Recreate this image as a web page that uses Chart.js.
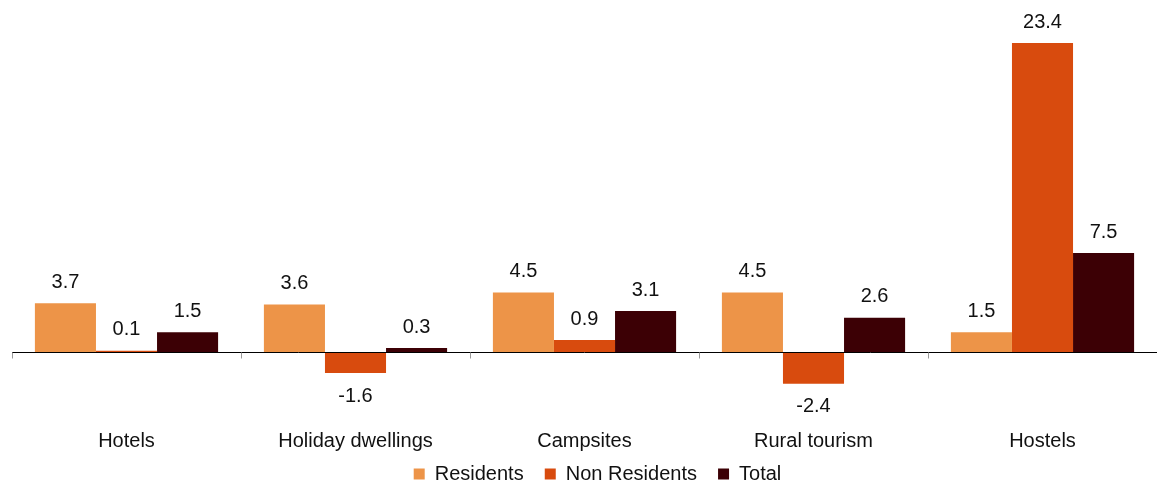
<!DOCTYPE html>
<html>
<head>
<meta charset="utf-8">
<script src="https://cdn.jsdelivr.net/npm/chart.js@4/dist/chart.umd.min.js"></script>
<style>
  html, body { margin: 0; padding: 0; background: #fff; }
  #wrap { width: 1157px; height: 484px; }
</style>
</head>
<body>
<div id="wrap"><canvas id="accChart"></canvas></div>
<script>
// Accommodation types
const categories = ['Hotels', 'Holiday dwellings', 'Campsites', 'Rural tourism', 'Hostels'];

// Year-on-year change (%)
const residents = [3.7, 3.6, 4.5, 4.5, 1.5];
const nonResidents = [0.1, -1.6, 0.9, -2.4, 23.4];
const total = [1.5, 0.3, 3.1, 2.6, 7.5];

const FONT = '"Liberation Sans", Arial, sans-serif';

// zero line + tick marks at category boundaries
const zeroAxis = {
    id: 'zeroAxis',
    afterDatasetsDraw(chart) {
        const { ctx, chartArea, scales } = chart;
        const y0 = Math.round(scales.y.getPixelForValue(0)) + 0.5;
        ctx.save();
        ctx.strokeStyle = '#000';
        ctx.lineWidth = 1;
        ctx.beginPath();
        ctx.moveTo(chartArea.left, y0);
        ctx.lineTo(chartArea.right, y0);
        ctx.stroke();

        const step = (chartArea.right - chartArea.left) / categories.length;
        ctx.strokeStyle = '#999';
        ctx.beginPath();
        for (let i = 0; i <= categories.length; i++) {
            const x = Math.round(chartArea.left + step * i) + 0.5;
            ctx.moveTo(x, y0);
            ctx.lineTo(x, y0 + 6);
        }
        ctx.stroke();
        ctx.restore();
    }
};

// value labels above / below each bar
const valueLabels = {
    id: 'valueLabels',
    afterDatasetsDraw(chart) {
        const { ctx } = chart;
        ctx.save();
        ctx.font = '20px ' + FONT;
        ctx.fillStyle = '#111';
        ctx.textAlign = 'center';
        ctx.textBaseline = 'middle';
        chart.data.datasets.forEach((ds, i) => {
            const meta = chart.getDatasetMeta(i);
            meta.data.forEach((bar, j) => {
                const v = ds.data[j];
                const y = v >= 0 ? Math.min(bar.y, bar.base) - 21 : Math.max(bar.y, bar.base) + 23;
                ctx.fillText(v.toFixed(1), bar.x, y);
            });
        });
        ctx.restore();
    }
};

// legend sits a bit right of centre in the original
const legendShift = {
    id: 'legendShift',
    afterLayout(chart) {
        const lg = chart.legend;
        if (!lg) return;
        lg.left += 13;
        lg.right += 13;
    }
};

new Chart(document.getElementById('accChart').getContext('2d'), {
    type: 'bar',
    data: {
        labels: categories,
        datasets: [
            { label: 'Residents', data: residents, backgroundColor: '#ED9448' },
            { label: 'Non Residents', data: nonResidents, backgroundColor: '#D84B0E' },
            { label: 'Total', data: total, backgroundColor: '#3C0005' }
        ]
    },
    options: {
        responsive: true,
        maintainAspectRatio: false,
        animation: false,
        layout: { padding: { left: 12, right: 0, top: 22, bottom: 0 } },
        datasets: {
            bar: { categoryPercentage: 0.8, barPercentage: 1.0, borderWidth: 0 }
        },
        plugins: {
            legend: {
                position: 'bottom',
                maxHeight: 30,
                labels: {
                    boxWidth: 11,
                    boxHeight: 11,
                    padding: 10,
                    color: '#111',
                    font: { family: FONT, size: 20 },
                    // trailing spaces widen the gap between items
                    generateLabels(chart) {
                        const items = Chart.defaults.plugins.legend.labels.generateLabels(chart);
                        items.forEach((it, i) => {
                            if (i < items.length - 1) it.text += '  ';
                        });
                        return items;
                    }
                }
            },
            tooltip: { enabled: false }
        },
        scales: {
            y: {
                display: false,
                min: -5,
                max: 25
            },
            x: {
                grid: { display: false, drawTicks: false },
                border: { display: false },
                afterFit(scale) { scale.height = 36; },
                ticks: {
                    color: '#111',
                    padding: 11,
                    maxRotation: 0,
                    font: { family: FONT, size: 20 }
                }
            }
        }
    },
    plugins: [zeroAxis, valueLabels, legendShift]
});
</script>
</body>
</html>
